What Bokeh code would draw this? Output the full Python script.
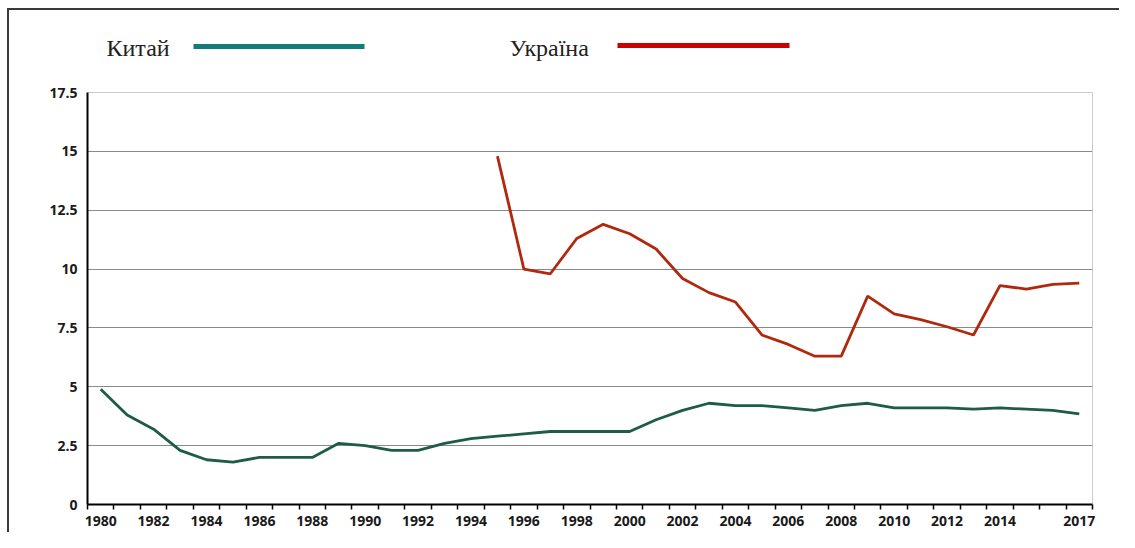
from bokeh.plotting import figure
from bokeh.models import Range1d, FixedTicker, NumeralTickFormatter, BasicTickFormatter
from bokeh.layouts import column
from bokeh.core.properties import value
from bokeh.embed import file_html
from bokeh.resources import INLINE

# ---- data ----
years_china = list(range(1980, 2018))
china = [4.9, 3.8, 3.2, 2.3, 1.9, 1.8, 2.0, 2.0, 2.0, 2.6,
         2.5, 2.3, 2.3, 2.6, 2.8, 2.9, 3.0, 3.1, 3.1, 3.1,
         3.1, 3.6, 4.0, 4.3, 4.2, 4.2, 4.1, 4.0, 4.2, 4.3,
         4.1, 4.1, 4.1, 4.05, 4.1, 4.05, 4.0, 3.85]
years_ukraine = list(range(1995, 2018))
ukraine = [14.8, 10.0, 9.8, 11.3, 11.9, 11.5, 10.85, 9.6, 9.0, 8.6,
           7.2, 6.8, 6.3, 6.3, 8.85, 8.1, 7.85, 7.55, 7.2, 9.3,
           9.15, 9.35, 9.4]
x_tick_labels = [1980, 1982, 1984, 1986, 1988, 1990, 1992, 1994, 1996, 1998,
                 2000, 2002, 2004, 2006, 2008, 2010, 2012, 2014, 2017]
y_ticks = [0, 2.5, 5, 7.5, 10, 12.5, 15, 17.5]
legend_labels = ["Китай", "Україна"]
legend_colors = ["#137c78", "#cc0000"]
line_colors = ["#1f5c45", "#b0290f"]

W = 1119
BL, BR = 87, 27          # left / right borders -> frame spans x 87..1092

# ---- header (legend) ----
hdr = figure(width=W, height=80, output_backend="svg", toolbar_location=None,
             x_range=Range1d(BL, W - BR), y_range=Range1d(80, 0),
             min_border_left=BL, min_border_right=BR, min_border_top=0, min_border_bottom=0,
             outline_line_color=None, border_fill_color=None, background_fill_color=None)
hdr.axis.visible = False
hdr.grid.visible = False
lx_text = [106, 509]
lx0 = [193, 617]
lx1 = [364, 789]
ly = [46, 45]
hdr.text(x=lx_text, y=[47, 47], text=legend_labels, text_font=value("Liberation Serif"),
         text_font_size="24px", text_color="#222222", text_baseline="middle", text_align="left")
hdr.segment(x0=lx0, y0=ly, x1=lx1, y1=ly, line_color=legend_colors, line_width=5)

# ---- chart ----
p = figure(width=W, height=452, output_backend="svg", toolbar_location=None,
           x_range=Range1d(1979.5, 2017.5), y_range=Range1d(0, 17.5),
           min_border_left=BL, min_border_right=BR, min_border_top=12, min_border_bottom=28,
           outline_line_color="#cccccc", border_fill_color=None, background_fill_color="white")

p.line(years_china, china, line_color=line_colors[0], line_width=2.8)
p.line(years_ukraine, ukraine, line_color=line_colors[1], line_width=2.8)

p.xaxis.ticker = FixedTicker(ticks=x_tick_labels, minor_ticks=[1979.5 + i for i in range(39)])
p.xaxis.formatter = BasicTickFormatter(use_scientific=False)
p.xaxis.major_tick_line_color = None
p.xaxis.major_tick_out = 0
p.xaxis.major_tick_in = 0
p.xaxis.minor_tick_line_color = "#000000"
p.xaxis.minor_tick_out = 5
p.xaxis.minor_tick_in = 0
p.xaxis.minor_tick_line_width = 1.5
p.xaxis.major_label_standoff = 6

p.yaxis.ticker = FixedTicker(ticks=y_ticks)
p.yaxis.formatter = NumeralTickFormatter(format="0.[0]")
p.yaxis.major_tick_line_color = None
p.yaxis.minor_tick_line_color = None
p.yaxis.major_tick_out = 0
p.yaxis.major_label_standoff = 10

for ax in (p.xaxis, p.yaxis):
    ax.axis_line_color = "#000000"
    ax.axis_line_width = 2
    ax.major_label_text_font = "Open Sans"
    ax.major_label_text_font_style = "bold"
    ax.major_label_text_font_size = "14px"
    ax.major_label_text_color = "#1a1a1a"

p.xgrid.grid_line_color = None
p.ygrid.grid_line_color = "#8a8a8a"
p.ygrid.grid_line_width = 1

frame_css = ("linear-gradient(#3a3a3a,#3a3a3a) 8px 8px / 1200px 2px no-repeat, "
             "linear-gradient(#3a3a3a,#3a3a3a) 7px 8px / 2px 600px no-repeat, white")
layout = column(hdr, p, styles={"background": frame_css})

open("out.html", "w").write(file_html(layout, INLINE))
